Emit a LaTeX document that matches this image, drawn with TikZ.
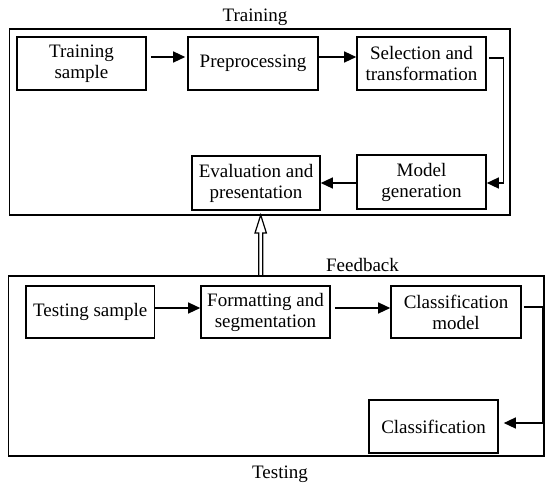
\documentclass[tikz,border=0pt]{standalone}
\usepackage{fontspec}
\setmainfont{Liberation Serif}
\usetikzlibrary{arrows.meta,calc}
\begin{document}
\begin{tikzpicture}[x=1pt,y=-1pt,
  font=\fontsize{19}{21}\selectfont,
  stagebox/.style={draw,line width=1.6pt,align=center,inner sep=0pt,minimum width=129pt,minimum height=53pt},
  outerbox/.style={draw,line width=1.4pt,inner sep=0pt},
  conn/.style={line width=1.3pt,-{Triangle[length=12pt,width=11pt]}},
  lbl/.style={inner sep=0pt}]
\useasboundingbox (0,0) rectangle (546,485);
% outer frames
\node[outerbox,minimum width=500.5pt,minimum height=186pt] (train) at (259.75,122) {};
\node[outerbox,minimum width=535.5pt,minimum height=180pt] (test) at (276.25,366) {};
\node[lbl] (trainlbl) at (255,17.5) {Training};
\node[lbl] (fblbl) at (362.5,264.5) {Feedback};
\node[lbl] (testlbl) at (280,474) {Testing};
% training stages
\node[stagebox] (ts) at (81.5,63.5) {Training\\sample};
\node[stagebox,minimum width=130pt] (pp) at (253,63.5) {Preprocessing};
\node[stagebox] (sel) at (421.5,63.5) {Selection and\\transformation};
\node[stagebox,minimum width=128pt,minimum height=54pt] (ev) at (256,183) {Evaluation and\\presentation};
\node[stagebox,minimum height=54pt] (mg) at (421.5,182) {Model\\generation};
% testing stages
\node[stagebox,minimum width=128.5pt,minimum height=52pt] (tsm) at (90.25,312) {Testing sample};
\node[stagebox,minimum height=52pt] (fmt) at (265.5,312) {Formatting and\\segmentation};
\node[stagebox,minimum width=130pt,minimum height=52pt] (cm) at (456,312) {Classification\\model};
\node[stagebox] (cl) at (433.5,426.5) {Classification};
% training connectors
\draw[conn,shorten <=4pt,shorten >=2pt] ([yshift=6.5pt]ts.east) -- ([yshift=6.5pt]pp.west);
\draw[conn] ([yshift=6.5pt]pp.east) -- ([yshift=6.5pt]sel.west);
\draw[conn] ([xshift=2pt,yshift=5.5pt]sel.east) -- ++(15,0) |- ([yshift=-1pt]mg.east);
\draw[conn] ([yshift=-1pt]mg.west) -- ([yshift=-1pt]mg.west -| ev.east);
% testing connectors
\draw[conn] ([yshift=4pt]tsm.east) -- ([yshift=4pt]fmt.west);
\draw[conn,shorten <=4pt] ([yshift=4pt]fmt.east) -- ([yshift=4pt]cm.west);
\draw[conn] ([xshift=2pt,yshift=5pt]cm.east) -- ++(19,0) |- ([xshift=5pt,yshift=3.5pt]cl.east);
% feedback arrow (hollow, double shaft)
\coordinate (fbtip) at (260.7,215);
\coordinate (fbbase) at (260.7,276);
\draw[line width=1.2pt,line join=miter]
  ($(fbbase)+(-2,0)$) -- ($(fbtip)+(-2,18)$) -- ($(fbtip)+(-5.7,18)$) -- (fbtip)
  -- ($(fbtip)+(5.7,18)$) -- ($(fbtip)+(2,18)$) -- ($(fbbase)+(2,0)$);
\end{tikzpicture}
\end{document}
